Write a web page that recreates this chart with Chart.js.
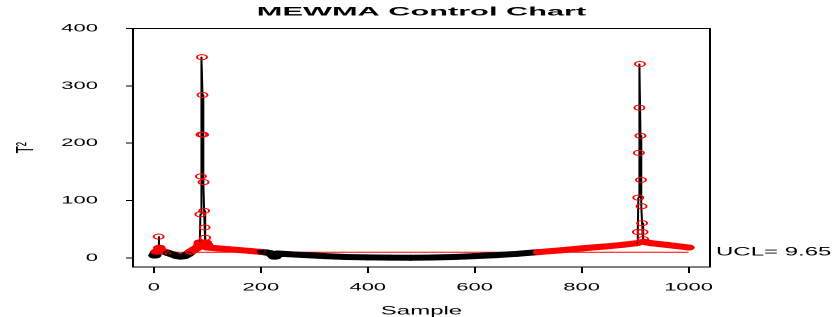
<!DOCTYPE html>
<html>
<head>
<meta charset="utf-8">
<script src="https://cdn.jsdelivr.net/npm/chart.js@4.4.1/dist/chart.umd.min.js"></script>
<style>
  html, body { margin: 0; padding: 0; background: #fff; overflow: hidden; }
  /* the reference is drawn wide: lay out at half width, then stretch */
  #wrap { width: 418px; height: 317px; transform: scaleX(2); transform-origin: 0 0; }
</style>
</head>
<body>
<div id="wrap"><canvas id="chart"></canvas></div>
<script>
// Sample numbers and T2 statistic
const samples = [1, 3, 5, 7, 8, 9, 10, 11, 14, 18, 22, 28, 35, 42, 50, 57, 63, 69, 75, 80, 84,
  85, 86, 87, 88, 89, 90, 91, 92, 93, 94, 95, 96, 97, 98,
  100, 120, 140, 160, 180, 200, 210, 218, 222, 225, 228, 232, 250, 280, 320, 360, 400,
  440, 480, 520, 560, 600, 640, 680, 720, 760, 800, 840, 880, 903,
  905, 906, 907, 908, 909, 910, 911, 912, 913, 914, 915, 916, 930, 960, 1000];
const t2Values = [4, 7, 10.5, 12, 11, 37, 17.5, 11, 12, 11, 10, 8, 6, 3.5, 2, 3, 6, 10.5, 14, 17, 19.5,
  22, 27, 76, 142, 215, 350, 284, 215, 132, 82, 53, 35, 27, 23,
  18, 16.5, 15, 13.5, 12, 10.3, 9.3, 8, 5, 2, 5, 7.5, 6.5, 5, 3, 1.5, 0.8,
  0.3, 0.2, 0.5, 1.5, 3, 4.7, 7, 10, 13, 16.5, 19.5, 23, 25.5,
  45, 105, 183, 262, 338, 213, 136, 90, 60.5, 45, 32.6, 28, 25.5, 22.5, 18];
const xTicks = [0, 200, 400, 600, 800, 1000];
const yTicks = [0, 100, 200, 300, 400];
const ucl = 9.65;
const chartTitle = "MEWMA Control Chart";
const xLabel = "Sample";
const yLabel = "T²";

const FONT = '"Liberation Sans", Arial, Helvetica, sans-serif';
const RED = "#ff0000";

const points = samples.map((s, i) => ({ x: s, y: t2Values[i] }));

// low values form the thick band, spikes get a thin line
function isBand(ctx) {
  return Math.max(ctx.p0.parsed.y, ctx.p1.parsed.y) < 30;
}

// box, title and UCL text like the R plot
const frame = {
  id: "frame",
  afterDraw(chart) {
    const { ctx, chartArea: a, scales } = chart;
    ctx.save();
    ctx.strokeStyle = "#000";
    ctx.lineWidth = 1;
    ctx.strokeRect(a.left, a.top, a.right - a.left, a.bottom - a.top);
    ctx.fillStyle = "#000";
    ctx.font = "bold 12px " + FONT;
    ctx.textAlign = "center";
    ctx.textBaseline = "middle";
    ctx.translate((a.left + a.right) / 2, 12);
    ctx.scale(1.28, 1);
    ctx.fillText(chartTitle, 0, 0);
    ctx.restore();

    ctx.save();
    ctx.fillStyle = "#000";
    ctx.font = "12px " + FONT;
    ctx.textAlign = "left";
    ctx.textBaseline = "middle";
    ctx.fillText("UCL= " + ucl, a.right + 3, scales.y.getPixelForValue(ucl));
    ctx.restore();
  }
};

new Chart(document.getElementById("chart"), {
  type: "line",
  data: {
    datasets: [
      {
        data: points,
        borderColor: "#000",
        borderWidth: 1,
        borderJoinStyle: "round",
        borderCapStyle: "round",
        tension: 0,
        segment: {
          borderWidth: ctx => isBand(ctx) ? 6 : 1,
          borderColor: ctx => isBand(ctx) && Math.min(ctx.p0.parsed.y, ctx.p1.parsed.y) > ucl ? RED : "#000"
        },
        pointRadius: 2.5,
        pointBorderWidth: 1,
        pointBackgroundColor: "rgba(0,0,0,0)",
        pointBorderColor: ctx => ctx.raw && ctx.raw.y > ucl ? RED : "#000"
      },
      {
        data: [{ x: samples[0], y: ucl }, { x: samples[samples.length - 1], y: ucl }],
        borderColor: RED,
        borderWidth: 1,
        pointRadius: 0
      }
    ]
  },
  options: {
    responsive: true,
    maintainAspectRatio: false,
    devicePixelRatio: 2,
    animation: false,
    layout: { padding: { top: 28.5, right: 63, left: 0, bottom: 0 } },
    plugins: {
      legend: { display: false },
      tooltip: { enabled: false },
      title: { display: false }
    },
    scales: {
      x: {
        type: "linear",
        min: -39,
        max: 1040,
        afterBuildTicks: s => { s.ticks = xTicks.map(v => ({ value: v })); },
        afterFit: s => { s.height = 50; },
        grid: { drawOnChartArea: false, tickLength: 6, color: "#000" },
        border: { display: false },
        ticks: { color: "#000", font: { family: FONT, size: 11 }, padding: 8, maxRotation: 0, autoSkip: false,
          callback: v => String(v) },
        title: { display: true, text: xLabel, color: "#000", font: { family: FONT, size: 12, lineHeight: 1 }, padding: { top: 0, bottom: 0 } }
      },
      y: {
        min: -16,
        max: 400,
        afterBuildTicks: s => { s.ticks = yTicks.map(v => ({ value: v })); },
        afterFit: s => { s.width = 66.5; },
        grid: { drawOnChartArea: false, tickLength: 3.5, color: "#000" },
        border: { display: false },
        ticks: { color: "#000", font: { family: FONT, size: 11 }, padding: 14, autoSkip: false,
          callback: v => String(v) },
        title: { display: true, text: yLabel, color: "#000", font: { family: FONT, size: 12, lineHeight: 1 }, padding: { top: 7, bottom: 0 } }
      }
    }
  },
  plugins: [frame]
});
</script>
</body>
</html>
